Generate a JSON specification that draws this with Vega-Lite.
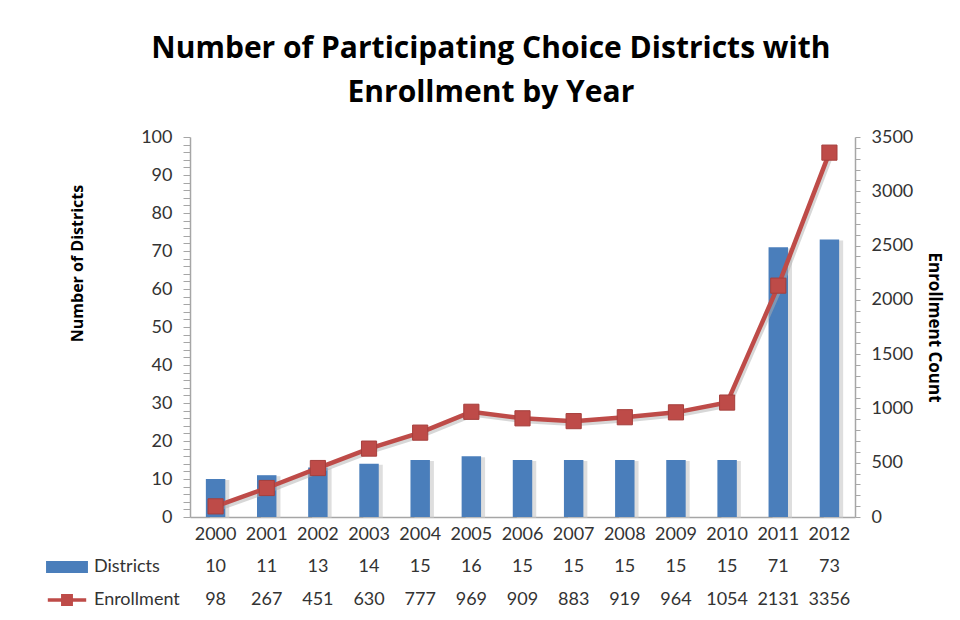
{
  "$schema": "https://vega.github.io/schema/vega-lite/v6.json",
  "padding": {"left": 35, "top": 34, "right": 5, "bottom": 5},
  "background": "white",
  "config": {
    "view": {"stroke": null},
    "font": "Lato",
    "axis": {"labelFont": "Lato", "titleFont": "Open Sans", "labelColor": "#333333", "titleColor": "#000000"},
    "legend": {"labelFont": "Lato"}
  },
  "title": {
    "text": ["Number of Participating Choice Districts with", "Enrollment by Year"],
    "font": "Open Sans",
    "fontSize": 30,
    "fontWeight": "bold",
    "color": "#000000",
    "lineHeight": 44,
    "anchor": "middle",
    "frame": "bounds",
    "offset": 20,
    "dx": 2
  },
  "datasets": {
    "years": [
      {"year": "2000", "districts": 10, "enrollment": 98},
      {"year": "2001", "districts": 11, "enrollment": 267},
      {"year": "2002", "districts": 13, "enrollment": 451},
      {"year": "2003", "districts": 14, "enrollment": 630},
      {"year": "2004", "districts": 15, "enrollment": 777},
      {"year": "2005", "districts": 16, "enrollment": 969},
      {"year": "2006", "districts": 15, "enrollment": 909},
      {"year": "2007", "districts": 15, "enrollment": 883},
      {"year": "2008", "districts": 15, "enrollment": 919},
      {"year": "2009", "districts": 15, "enrollment": 964},
      {"year": "2010", "districts": 15, "enrollment": 1054},
      {"year": "2011", "districts": 71, "enrollment": 2131},
      {"year": "2012", "districts": 73, "enrollment": 3356}
    ],
    "table": [
      {"year": "2000", "series": "Districts", "value": 10},
      {"year": "2001", "series": "Districts", "value": 11},
      {"year": "2002", "series": "Districts", "value": 13},
      {"year": "2003", "series": "Districts", "value": 14},
      {"year": "2004", "series": "Districts", "value": 15},
      {"year": "2005", "series": "Districts", "value": 16},
      {"year": "2006", "series": "Districts", "value": 15},
      {"year": "2007", "series": "Districts", "value": 15},
      {"year": "2008", "series": "Districts", "value": 15},
      {"year": "2009", "series": "Districts", "value": 15},
      {"year": "2010", "series": "Districts", "value": 15},
      {"year": "2011", "series": "Districts", "value": 71},
      {"year": "2012", "series": "Districts", "value": 73},
      {"year": "2000", "series": "Enrollment", "value": 98},
      {"year": "2001", "series": "Enrollment", "value": 267},
      {"year": "2002", "series": "Enrollment", "value": 451},
      {"year": "2003", "series": "Enrollment", "value": 630},
      {"year": "2004", "series": "Enrollment", "value": 777},
      {"year": "2005", "series": "Enrollment", "value": 969},
      {"year": "2006", "series": "Enrollment", "value": 909},
      {"year": "2007", "series": "Enrollment", "value": 883},
      {"year": "2008", "series": "Enrollment", "value": 919},
      {"year": "2009", "series": "Enrollment", "value": 964},
      {"year": "2010", "series": "Enrollment", "value": 1054},
      {"year": "2011", "series": "Enrollment", "value": 2131},
      {"year": "2012", "series": "Enrollment", "value": 3356}
    ]
  },
  "spacing": 7,
  "resolve": {
    "scale": {"color": "independent", "stroke": "independent", "shape": "independent"},
    "legend": {"color": "independent", "stroke": "independent", "shape": "independent"}
  },
  "vconcat": [
    {
      "width": 665,
      "height": 380,
      "data": {"name": "years"},
      "encoding": {
        "x": {
          "field": "year",
          "type": "ordinal",
          "scale": {"paddingInner": 0, "paddingOuter": 0},
          "axis": {
            "title": null,
            "labelAngle": 0,
            "labelFontSize": 18,
            "labelColor": "#333333",
            "ticks": false,
            "domainColor": "#a6a6a6",
            "domainWidth": 1.5,
            "labelPadding": 8
          }
        }
      },
      "layer": [
        {
          "mark": {"type": "bar", "width": {"band": 0.38}, "color": "#c8c8c8", "opacity": 0.6, "xOffset": 4, "yOffset": 1},
          "encoding": {
            "y": {"field": "districts", "type": "quantitative", "scale": {"domain": [0, 100]}, "axis": null}
          }
        },
        {
          "mark": {"type": "bar", "width": {"band": 0.38}, "color": "#4a7ebb"},
          "encoding": {
            "y": {
              "field": "districts",
              "type": "quantitative",
              "scale": {"domain": [0, 100]},
              "axis": {
                "title": "Number of Districts",
                "titleFontSize": 16,
                "titleFontWeight": "bold",
                "titlePadding": 55,
                "titleY": 126,
                "values": [0,2,4,6,8,10,12,14,16,18,20,22,24,26,28,30,32,34,36,38,40,42,44,46,48,50,52,54,56,58,60,62,64,66,68,70,72,74,76,78,80,82,84,86,88,90,92,94,96,98,100],
                "labelExpr": "datum.value % 10 === 0 ? datum.label : ''",
                "labelFontSize": 18,
                "labelPadding": 11,
                "labelOverlap": false,
                "labelBound": false,
                "tickSize": 7,
                "tickColor": "#a6a6a6",
                "domainColor": "#a6a6a6",
                "domainWidth": 1.5,
                "grid": false,
                "encode": {
                  "ticks": {
                    "x": {"condition": {"test": "datum.value % 10 === 0", "value": 8}, "value": 0},
                    "x2": {"condition": {"test": "datum.value % 10 === 0", "value": -7}, "value": -5}
                  }
                }
              }
            }
          }
        },
        {
          "encoding": {
            "y": {
              "field": "enrollment",
              "type": "quantitative",
              "scale": {"domain": [0, 3500]},
              "axis": {
                "orient": "right",
                "title": "Enrollment Count",
                "titleFontSize": 17,
                "titleFontWeight": "bold",
                "titlePadding": 12,
                "format": "d",
                "values": [0,100,200,300,400,500,600,700,800,900,1000,1100,1200,1300,1400,1500,1600,1700,1800,1900,2000,2100,2200,2300,2400,2500,2600,2700,2800,2900,3000,3100,3200,3300,3400,3500],
                "labelExpr": "datum.value % 500 === 0 ? datum.label : ''",
                "labelFontSize": 18,
                "labelPadding": 11,
                "labelOverlap": false,
                "labelBound": false,
                "tickSize": 5,
                "tickColor": "#a6a6a6",
                "domainColor": "#a6a6a6",
                "domainWidth": 1.5,
                "grid": false,
                "encode": {
                  "ticks": {
                    "x": {"condition": {"test": "datum.value % 500 === 0", "value": -9}, "value": -6},
                    "x2": {"condition": {"test": "datum.value % 500 === 0", "value": 5}, "value": 0}
                  }
                }
              }
            }
          },
          "layer": [
            {"mark": {"type": "line", "color": "#b0b0b0", "strokeWidth": 4, "opacity": 0.5, "xOffset": 2, "yOffset": 3}},
            {"mark": {"type": "line", "color": "#be4b48", "strokeWidth": 4.5}},
            {"mark": {"type": "point", "shape": "square", "filled": true, "size": 230, "color": "#be4b48", "stroke": "#a63f3c", "strokeWidth": 1, "opacity": 1}}
          ]
        }
      ],
      "resolve": {"scale": {"y": "independent"}}
    },
    {
      "width": 665,
      "height": 66,
      "data": {"name": "table"},
      "encoding": {
        "x": {"field": "year", "type": "ordinal", "scale": {"paddingInner": 0, "paddingOuter": 0}, "axis": null},
        "y": {"field": "series", "type": "nominal", "sort": ["Districts", "Enrollment"], "axis": null}
      },
      "layer": [
        {
          "mark": {"type": "text", "fontSize": 18, "color": "#333333", "font": "Lato"},
          "encoding": {"text": {"field": "value", "type": "nominal"}}
        },
        {
          "mark": {"type": "point", "filled": true, "opacity": 0},
          "encoding": {
            "color": {
              "field": "series",
              "type": "nominal",
              "scale": {"domain": ["Districts", "Enrollment"], "range": ["#4a7ebb", "#be4b48"]},
              "legend": {
                "orient": "left",
                "title": null,
                "symbolSize": 144,
                "symbolOpacity": 1,
                "symbolStrokeWidth": 3.5,
                "labelFontSize": 18,
                "labelColor": "#333333",
                "labelOffset": 33,
                "rowPadding": 9,
                "offset": 2,
                "padding": 8
              }
            },
            "stroke": {
              "field": "series",
              "type": "nominal",
              "scale": {"domain": ["Districts", "Enrollment"], "range": ["#4a7ebb", "#be4b48"]},
              "legend": {
                "orient": "left",
                "title": null,
                "symbolSize": 144,
                "symbolOpacity": 1,
                "symbolStrokeWidth": 3.5,
                "labelFontSize": 18,
                "labelColor": "#333333",
                "labelOffset": 33,
                "rowPadding": 9,
                "offset": 2,
                "padding": 8
              }
            },
            "shape": {
              "field": "series",
              "type": "nominal",
              "scale": {"domain": ["Districts", "Enrollment"], "range": ["M-0.7,-0.7H5.7V0.7H-0.7Z", "M-0.7,0H5.7M1.8,-0.7H3.2V0.7H1.8Z"]},
              "legend": {
                "orient": "left",
                "title": null,
                "symbolSize": 144,
                "symbolOpacity": 1,
                "symbolStrokeWidth": 3.5,
                "labelFontSize": 18,
                "labelColor": "#333333",
                "labelOffset": 33,
                "rowPadding": 9,
                "offset": 2,
                "padding": 8
              }
            }
          }
        }
      ]
    }
  ]
}
